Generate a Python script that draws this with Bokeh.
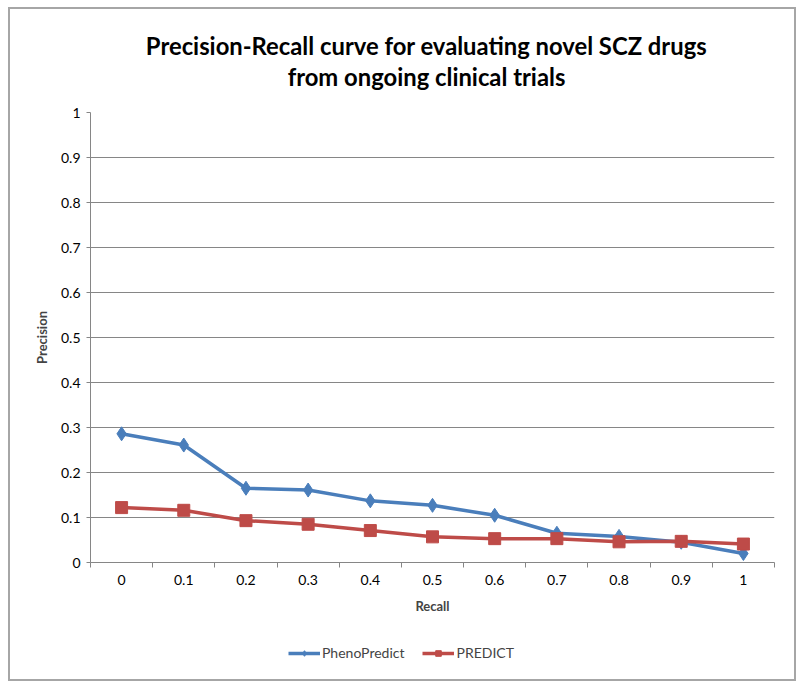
from bokeh.plotting import figure
from bokeh.models import (FixedTicker, CustomJSTickFormatter, Label, Legend,
                          LegendItem, Range1d, Column)
from bokeh.embed import file_html
from bokeh.resources import INLINE

# ---- data ----
recall = [0, 0.1, 0.2, 0.3, 0.4, 0.5, 0.6, 0.7, 0.8, 0.9, 1]
pheno_predict = [0.286, 0.261, 0.165, 0.161, 0.137, 0.127, 0.105, 0.065, 0.058, 0.045, 0.020]
predict = [0.122, 0.116, 0.093, 0.085, 0.071, 0.057, 0.053, 0.053, 0.046, 0.047, 0.041]
y_ticks = [0, 0.1, 0.2, 0.3, 0.4, 0.5, 0.6, 0.7, 0.8, 0.9, 1]
series_names = ["PhenoPredict", "PREDICT"]
title_lines = ["Precision-Recall curve for evaluating novel SCZ drugs",
               "from ongoing clinical trials"]

FONT = "Lato"
BLUE = "#4A7EBB"
RED = "#BE4B48"
GRID = "#868686"
W = 784
FRAME_W = 684  # frames of the stacked strips are aligned with the main plot

half = (recall[1] - recall[0]) / 2
x_bounds = [r - half for r in recall] + [recall[-1] + half]

# ---- title strip ----
tp = figure(width=W, height=90, output_backend="svg", toolbar_location=None,
            x_range=Range1d(0, FRAME_W), y_range=Range1d(0, 90),
            x_axis_location=None, y_axis_location=None, min_border=0)
tp.outline_line_color = None
tp.grid.grid_line_color = None
for txt, ypos in zip(title_lines, [54, 23]):
    tp.add_layout(Label(x=336, y=ypos, text=txt, text_align="center",
                        text_baseline="middle", text_font=FONT,
                        text_font_size="23.8px", text_font_style="bold",
                        text_color="#000000"))

# ---- main chart ----
p = figure(width=W, height=531, output_backend="svg", toolbar_location=None,
           x_range=Range1d(recall[0] - half, recall[-1] + half),
           y_range=Range1d(y_ticks[0], y_ticks[-1]),
           min_border_left=80, min_border_right=20, min_border_top=13,
           min_border_bottom=68)
p.outline_line_color = None
p.background_fill_color = "white"
p.border_fill_color = "white"

fmt = CustomJSTickFormatter(code="return String(Math.round(tick*10)/10);")

xa = p.xaxis[0]
xa.ticker = FixedTicker(ticks=recall, minor_ticks=x_bounds)
xa.formatter = fmt
xa.major_tick_line_color = None
xa.minor_tick_out = 5
xa.minor_tick_in = 0
xa.minor_tick_line_color = GRID
xa.axis_line_color = GRID
xa.major_label_text_font = FONT
xa.major_label_text_font_size = "14px"
xa.major_label_text_color = "#000000"
xa.major_label_standoff = 6
xa.axis_label = "Recall"
xa.axis_label_text_font = FONT
xa.axis_label_text_font_style = "bold"
xa.axis_label_text_font_size = "13px"
xa.axis_label_standoff = 10

ya = p.yaxis[0]
ya.ticker = FixedTicker(ticks=y_ticks)
ya.formatter = fmt
ya.minor_tick_line_color = None
ya.major_tick_out = 4
ya.major_tick_in = 0
ya.major_tick_line_color = GRID
ya.axis_line_color = GRID
ya.major_label_text_font = FONT
ya.major_label_text_font_size = "14px"
ya.major_label_text_color = "#000000"
ya.major_label_standoff = 6
ya.axis_label = "Precision"
ya.axis_label_text_font = FONT
ya.axis_label_text_font_style = "bold"
ya.axis_label_text_font_size = "13px"
ya.axis_label_standoff = 8

p.xgrid.grid_line_color = None
p.ygrid.ticker = FixedTicker(ticks=y_ticks)
p.ygrid.grid_line_color = GRID
p.ygrid.grid_line_width = 1

line_kw = [dict(line_color=BLUE, line_width=3.5), dict(line_color=RED, line_width=3.5)]
mark_kw = [dict(marker="diamond", size=14, fill_color=BLUE, line_color=BLUE),
           dict(marker="square", size=12, fill_color=RED, line_color=RED)]
for ys, lk, mk in zip([pheno_predict, predict], line_kw, mark_kw):
    p.line(recall, ys, **lk)
    p.scatter(recall, ys, **mk)

# ---- legend strip (series drawn out of view; only legend glyphs show) ----
lg = figure(width=W, height=49, output_backend="svg", toolbar_location=None,
            x_range=Range1d(recall[0] - half, recall[-1] + half),
            y_range=Range1d(y_ticks[-1] + 1, y_ticks[-1] + 2),
            x_axis_location=None, y_axis_location=None, min_border=0)
lg.outline_line_color = None
lg.grid.grid_line_color = None
items = []
for name, ys, lk, mk in zip(series_names, [pheno_predict, predict], line_kw, mark_kw):
    r1 = lg.line(recall, ys, **lk)
    r2 = lg.scatter(recall, ys, **mk)
    items.append(LegendItem(label=name, renderers=[r1, r2]))
legend = Legend(items=items, orientation="horizontal", location=(198, 18),
                label_text_font=FONT, label_text_font_size="14px",
                glyph_width=32, glyph_height=14, spacing=18, padding=4,
                label_standoff=2, border_line_color=None,
                background_fill_alpha=0, margin=0)
lg.add_layout(legend, "center")

layout = Column(children=[tp, p, lg], spacing=0, margin=(7, 0, 0, 8))
layout.styles = {"border": "2px solid #a6a6a6", "background-color": "white"}

open("out.html", "w").write(file_html(layout, INLINE))
